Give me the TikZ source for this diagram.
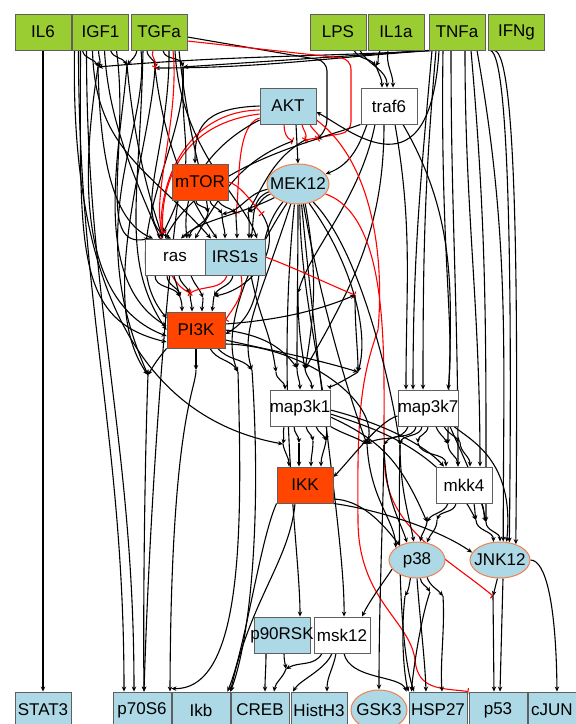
\documentclass[tikz,border=0pt]{standalone}
\usepackage{fontspec}
\setmainfont{Liberation Sans}
\usetikzlibrary{shapes.geometric,arrows.meta,backgrounds}
\definecolor{stimgreen}{RGB}{154,205,50}
\definecolor{readblue}{RGB}{173,216,230}
\definecolor{inhibred}{RGB}{255,69,0}
\definecolor{ringorange}{RGB}{240,128,80}
\definecolor{boxgray}{RGB}{95,95,95}
\newcommand{\boxtext}[1]{\makebox[0pt]{#1}}
\begin{document}
\begin{tikzpicture}[
x=1pt, y=-1pt,
font=\fontsize{17}{19}\selectfont,
box/.style={rectangle, draw=boxgray, line width=0.9pt, minimum width=56pt, minimum height=36pt, inner sep=0pt},
stimulus/.style={box, fill=stimgreen},
readout/.style={box, fill=readblue},
inhibited/.style={box, fill=inhibred},
hidden/.style={box, fill=white},
measured/.style={ellipse, draw=ringorange, line width=1pt, fill=readblue, minimum width=56pt, minimum height=36pt, inner sep=0pt},
act/.style={black, line width=1.1pt, -{Stealth[length=5pt,width=4.5pt]}},
neg/.style={red, line width=1.1pt, -{Bar[width=7pt]}},
]
\useasboundingbox (0,0) rectangle (576,724);
\node[stimulus] (IL6) at (43,32) {\boxtext{IL6}};
\node[stimulus] (IGF1) at (100.5,32) {\boxtext{IGF1}};
\node[stimulus] (TGFa) at (159,32) {\boxtext{TGFa}};
\node[stimulus] (LPS) at (338,32) {\boxtext{LPS}};
\node[stimulus] (IL1a) at (396,32) {\boxtext{IL1a}};
\node[stimulus] (TNFa) at (457,32) {\boxtext{TNFa}};
\node[stimulus] (IFNg) at (516.5,32) {\boxtext{IFNg}};
\node[readout] (AKT) at (288,106) {\boxtext{AKT}};
\node[hidden] (traf6) at (389,106) {\boxtext{traf6}};
\node[inhibited] (mTOR) at (200,182) {\boxtext{mTOR}};
\node[measured, minimum width=62pt, minimum height=40pt] (MEK12) at (298,184) {\boxtext{MEK12}};
\node[hidden, minimum width=60pt] (ras) at (175,257) {\boxtext{ras}};
\node[readout, minimum width=60pt] (IRS1s) at (235,257) {\boxtext{IRS1s}};
\node[inhibited, minimum width=58pt] (PI3K) at (196,330) {\boxtext{PI3K}};
\node[hidden, minimum width=60pt] (map3k1) at (300,408) {\boxtext{map3k1}};
\node[hidden, minimum width=60pt] (map3k7) at (428,408) {\boxtext{map3k7}};
\node[inhibited] (IKK) at (305,485) {\boxtext{IKK}};
\node[hidden] (mkk4) at (464,485) {\boxtext{mkk4}};
\node[measured] (p38) at (417,560) {\boxtext{p38}};
\node[measured, minimum width=60pt] (JNK12) at (500,560) {\boxtext{JNK12}};
\node[readout] (p90RSK) at (282,635) {\boxtext{p90RSK}};
\node[hidden] (msk12) at (342,635) {\boxtext{msk12}};
\node[readout] (STAT3) at (43,710) {\boxtext{STAT3}};
\node[readout, minimum width=58pt] (p70S6) at (142,710) {\boxtext{p70S6}};
\node[readout, minimum width=58pt] (Ikb) at (201,710) {\boxtext{Ikb}};
\node[readout, minimum width=58pt] (CREB) at (260,710) {\boxtext{CREB}};
\node[readout] (HistH3) at (319,710) {\boxtext{HistH3}};
\node[measured, minimum height=40pt] (GSK3) at (379,710) {\boxtext{GSK3}};
\node[readout, minimum width=58pt] (HSP27) at (438,710) {\boxtext{HSP27}};
\node[readout, minimum width=58pt] (p53) at (498,710) {\boxtext{p53}};
\node[readout, minimum width=58pt] (cJUN) at (557,710) {\boxtext{\kern-10pt cJUN}};
\coordinate (gA) at (98,67);
\coordinate (gB) at (127,65);
\coordinate (gC) at (155,68);
\coordinate (gE) at (183,67);
\coordinate (gT) at (376,66);
\coordinate (gM1) at (293,141);
\coordinate (gM2) at (305,140);
\coordinate (gM3) at (317,139);
\coordinate (gR1) at (208,213);
\coordinate (gR2) at (222,214);
\coordinate (gR3) at (236,213);
\coordinate (gR4) at (248,212);
\coordinate (gR5) at (262,214);
\coordinate (gS1) at (163,233);
\coordinate (gP1) at (180,297);
\coordinate (gP2) at (190,293);
\coordinate (gP3) at (203,298);
\coordinate (gP4) at (214,296);
\coordinate (gG) at (355,295);
\coordinate (gZ) at (298,293);
\coordinate (gK1) at (148,375);
\coordinate (gK2) at (196,370);
\coordinate (gK3) at (238,372);
\coordinate (gK4) at (252,370);
\coordinate (gL1) at (276,372);
\coordinate (gL2) at (297,368);
\coordinate (gL3) at (305,369);
\coordinate (gY) at (358,372);
\coordinate (gI1) at (283,444);
\coordinate (gI2) at (299,443);
\coordinate (gI3) at (313,441);
\coordinate (gI4) at (326,441);
\coordinate (gJ1) at (367,444);
\coordinate (gJ2) at (384,445);
\coordinate (gJ3) at (400,445);
\coordinate (gJ4) at (418,443);
\coordinate (gJ5) at (448,444);
\coordinate (gJ6) at (460,442);
\coordinate (gN1) at (427,522);
\coordinate (gN2) at (437,520);
\coordinate (gN3) at (476,520);
\coordinate (gN4) at (486,522);
\coordinate (gQ1) at (405,596);
\coordinate (gQ2) at (430,592);
\coordinate (gQ3) at (443,596);
\coordinate (gU1) at (493,596);
\coordinate (gC1) at (286,669);
\begin{scope}[on background layer]
\draw[act] (IL6) -- (STAT3);
\draw[act] (TNFa.south west) -- (gE);
\draw[act] ([xshift=3pt]TNFa.south west) to[out=184,in=0] (gC);
\draw[act] ([xshift=6pt]TNFa.south west) to[out=183,in=5] (gA);
\draw[act] ([xshift=-18pt]IGF1.south) to[out=-80,in=110] (gA);
\draw[act] ([xshift=-2pt]IGF1.south) to[out=-90,in=60] (gA);
\draw[act] ([xshift=10pt]IGF1.south) to[out=-70,in=120] (gB);
\draw[act] ([xshift=-22pt]TGFa.south) to[out=-100,in=50] (gB);
\draw[act] ([xshift=-12pt]TGFa.south) to[out=-90,in=80] (gC);
\draw[act] ([xshift=4pt]TGFa.south) to[out=-80,in=100] (gE);
\draw[neg] ([xshift=-6pt]TGFa.south) to[out=-120,in=60] (gC);
\draw[act, rounded corners=10pt] ([yshift=-5pt]TGFa.east) -- (327,61) -- (327,130) -- (gM3);
\draw[neg, rounded corners=10pt] ([yshift=-9pt]TGFa.east) -- (351,59) -- (351,132) -- (gM2);
\draw[act] ([xshift=16pt]LPS.south) to[out=-60,in=130] (gT);
\draw[act] ([xshift=-16pt]IL1a.south) to[out=-120,in=60] (gT);
\draw[act] (gT) to[out=-70,in=90] ([xshift=-7pt]traf6.north);
\draw[act] ([xshift=22pt]LPS.south) to[out=-60,in=90] ([xshift=-2pt]traf6.north);
\draw[act] ([xshift=-8pt]IL1a.south) to[out=-100,in=90] ([xshift=4pt]traf6.north);
\draw[act] ([xshift=-25pt]TNFa.south) to[out=-95,in=90] ([xshift=-15pt]map3k7.north);
\draw[act] ([xshift=-21pt]TNFa.south) to[out=-95,in=90] ([xshift=-5pt]map3k7.north);
\draw[act] ([xshift=-14pt]TNFa.south) .. controls (440,250) and (455,330) .. ([xshift=20pt]map3k7.north);
\draw[act] ([xshift=-6pt]TNFa.south) to[out=-90,in=90] ([xshift=-6pt]mkk4.north);
\draw[act] ([xshift=8pt]TNFa.south) to[out=-90,in=90] ([xshift=16pt]mkk4.north);
\draw[act] ([xshift=14pt]TNFa.south) to[out=-85,in=90] (gN4);
\draw[act] ([xshift=20pt]TNFa.south) to[out=-80,in=90] (JNK12.80);
\draw[act] ([xshift=-26pt]IFNg.south) .. controls (510,56) and (512,300) .. (JNK12.62);
\draw[act] ([xshift=-22pt]IFNg.south) .. controls (517,54) and (518,300) .. (JNK12.45);
\draw[act] ([xshift=-18pt]TNFa.south) .. controls (430,200) and (350,130) .. ([yshift=-6pt]AKT.east);
\draw[act] ([xshift=-22pt]traf6.south) to[out=-110,in=20] (MEK12.20);
\draw[act] ([xshift=-14pt]traf6.south) .. controls (360,200) and (310,250) .. (gZ);
\draw[act] ([xshift=-5pt]traf6.south) to[out=-90,in=60] (gL3);
\draw[act] ([xshift=6pt]traf6.south) to[out=-80,in=90] ([xshift=-22pt]map3k7.north);
\draw[act] ([xshift=14pt]traf6.south) to[out=-60,in=90] (gJ5);
\draw[act] (traf6.south west) to[out=200,in=20] (gM3);
\draw[act] ([xshift=8pt]AKT.south) -- (MEK12.north);
\draw[neg] ([xshift=-4pt]AKT.south) to[out=-90,in=160] (gM1);
\draw[neg] ([xshift=14pt]AKT.south) to[out=-80,in=60] (gM2);
\draw[neg] ([xshift=22pt]AKT.south) to[out=-70,in=40] (gM3);
\draw[act] (gM1) to[out=200,in=60] ([xshift=20pt]ras.north);
\draw[act] (gM2) to[out=210,in=60] (gR4);
\draw[act] (gM3) .. controls (250,160) and (190,190) .. ([xshift=-10pt]ras.north);
\draw[act] (AKT.west) .. controls (200,108) and (195,130) .. ([xshift=-5pt]mTOR.north);
\draw[neg] ([yshift=-4pt]AKT.west) .. controls (150,112) and (140,270) .. (gP2);
\draw[neg] ([yshift=-8pt]AKT.west) .. controls (170,125) and (160,200) .. (gS1);
\draw[neg] ([yshift=-12pt]AKT.west) .. controls (235,125) and (240,190) .. (gR3);
\draw[act] ([yshift=-14pt]AKT.west) .. controls (220,140) and (180,180) .. ([xshift=12pt]ras.north);
\draw[neg] ([yshift=-14pt]AKT.east) .. controls (370,160) and (385,250) .. (378,330) .. controls (360,380) and (357,420) .. (358,520) .. controls (358,600) and (410,620) .. (415,660) .. controls (418,690) and (440,688) .. (p53.north west);
\draw[neg] (MEK12.340) .. controls (400,220) and (380,400) .. (385,470) .. controls (390,530) and (450,560) .. (gU1);
\draw[act] (MEK12.200) to[out=200,in=20] (gR4);
\draw[act] (MEK12.190) to[out=190,in=10] (gR2);
\draw[act] (MEK12.210) .. controls (240,215) and (200,220) .. ([xshift=6pt]ras.north);
\draw[act] (MEK12.195) to[out=200,in=80] ([xshift=16pt]IRS1s.north);
\draw[act] (MEK12.260) .. controls (275,400) and (300,550) .. ([xshift=18pt]p90RSK.north);
\draw[act] (MEK12.280) .. controls (320,400) and (345,550) .. ([xshift=2pt]msk12.north);
\draw[act] (MEK12.270) to[out=-90,in=90] (gL2);
\draw[act] (MEK12.290) to[out=-80,in=80] (gL3);
\draw[act] (MEK12.300) .. controls (350,260) and (370,330) .. (gY);
\draw[act] (MEK12.250) .. controls (260,300) and (240,330) .. (gK4);
\draw[act] (MEK12.240) .. controls (250,260) and (220,330) .. (gK3);
\draw[act] (MEK12.230) to[out=230,in=30] ([yshift=-4pt]PI3K.east);
\draw[act] (MEK12.275) .. controls (300,300) and (330,400) .. (gI4);
\draw[act] (MEK12.285) .. controls (320,300) and (350,400) .. (gJ1);
\draw[act] (MEK12.310) .. controls (360,250) and (390,380) .. (gJ3);
\draw[act] ([xshift=-4pt]mTOR.south) to[out=-90,in=100] (gR1);
\draw[act] ([xshift=10pt]mTOR.south) to[out=-80,in=120] (gR2);
\draw[act] ([xshift=18pt]mTOR.south) to[out=-60,in=140] (gR3);
\draw[neg] (mTOR.east) .. controls (240,185) and (250,200) .. (gR5);
\draw[act] ([xshift=-22pt]mTOR.south) .. controls (165,300) and (150,500) .. ([xshift=2pt]p70S6.north);
\draw[act] (gR1) to[out=-100,in=80] ([xshift=14pt]ras.north);
\draw[act] (gR2) to[out=-90,in=90] ([xshift=-10pt]IRS1s.north);
\draw[act] (gR3) to[out=-90,in=90] ([xshift=2pt]IRS1s.north);
\draw[act] (gR4) to[out=-80,in=90] ([xshift=14pt]IRS1s.north);
\draw[act] (gR5) .. controls (285,250) and (250,290) .. (gP4);
\draw[act] (gA) .. controls (85,150) and (70,300) .. ([yshift=-6pt]PI3K.west);
\draw[act] (gA) .. controls (100,150) and (110,220) .. ([xshift=-22pt]ras.north);
\draw[act] (gB) .. controls (120,150) and (90,280) .. ([yshift=4pt]PI3K.west);
\draw[act] (gB) .. controls (135,150) and (150,200) .. ([xshift=-12pt]ras.north);
\draw[act] (gC) .. controls (150,150) and (95,300) .. (gK1);
\draw[act] (gC) .. controls (165,150) and (190,200) .. ([xshift=-18pt]IRS1s.north);
\draw[act] (gE) .. controls (190,140) and (110,250) .. ([yshift=12pt]PI3K.west);
\draw[act] (gE) .. controls (180,150) and (200,160) .. (gS1);
\draw[act] (gS1) to[out=-90,in=90] ([xshift=-16pt]ras.north);
\draw[act] ([xshift=-26pt]IGF1.south) .. controls (70,300) and (150,420) .. (gI1);
\draw[act] ([xshift=-20pt]IGF1.south) .. controls (80,250) and (75,320) .. ([yshift=-12pt]PI3K.west);
\draw[act] ([xshift=-22pt]IGF1.south) to[out=-90,in=90] ([xshift=-18pt]p70S6.north);
\draw[act] ([xshift=-14pt]IGF1.south) to[out=-90,in=90] ([xshift=-8pt]p70S6.north);
\draw[act] ([xshift=16pt]IGF1.south) .. controls (130,150) and (95,250) .. ([xshift=-26pt]ras.north);
\draw[act] ([xshift=-8pt]IGF1.south) .. controls (95,150) and (150,170) .. ([xshift=-24pt]IRS1s.north);
\draw[act] ([xshift=4pt]IGF1.south) .. controls (110,150) and (160,220) .. (gP1);
\draw[act] ([xshift=-16pt]TGFa.south) .. controls (140,200) and (120,260) .. (PI3K.west);
\draw[act] ([xshift=-18pt]TGFa.south) .. controls (150,130) and (80,220) .. (gK1);
\draw[act] ([xshift=10pt]TGFa.south) .. controls (170,150) and (130,220) .. ([xshift=-4pt]ras.north);
\draw[act] ([xshift=16pt]TGFa.south) .. controls (180,150) and (245,200) .. ([xshift=22pt]IRS1s.north);
\draw[act] ([xshift=20pt]TGFa.south) .. controls (190,150) and (205,180) .. (gR1);
\draw[neg] ([xshift=14pt]TGFa.south) .. controls (180,120) and (150,200) .. (gS1);
\draw[act] ([xshift=-20pt]ras.south) to[out=-90,in=120] (gP1);
\draw[act] ([xshift=-8pt]ras.south) to[out=-90,in=100] (gP1);
\draw[act] ([xshift=4pt]ras.south) to[out=-80,in=120] (gP2);
\draw[act] ([xshift=16pt]ras.south) to[out=-70,in=110] (gP3);
\draw[act] (gP1) to[out=-70,in=90] ([xshift=-14pt]PI3K.north);
\draw[act] (gP2) to[out=-90,in=90] ([xshift=-4pt]PI3K.north);
\draw[act] (gP3) to[out=-90,in=90] ([xshift=6pt]PI3K.north);
\draw[act] (gP4) to[out=-100,in=80] ([xshift=16pt]PI3K.north);
\draw[neg] ([xshift=-8pt]IRS1s.south) to[out=-110,in=30] (gP2);
\draw[neg] ([xshift=6pt]IRS1s.south) .. controls (245,295) and (235,305) .. ([yshift=10pt]PI3K.east);
\draw[act] ([xshift=-2pt]IRS1s.south) to[out=-100,in=60] (gP4);
\draw[act] ([xshift=16pt]IRS1s.south) .. controls (260,320) and (270,330) .. (gL1);
\draw[neg] (IRS1s.east) .. controls (300,270) and (330,285) .. (gG);
\draw[act] (PI3K.south west) to[out=-130,in=60] (gK1);
\draw[act] (PI3K.south) -- (gK2);
\draw[act] ([xshift=14pt]PI3K.south) to[out=-60,in=120] (gK3);
\draw[act] ([xshift=22pt]PI3K.south) to[out=-50,in=130] (gK4);
\draw[act] (PI3K.east) .. controls (260,335) and (280,345) .. (gL2);
\draw[act] ([yshift=-10pt]PI3K.east) .. controls (270,350) and (320,360) .. (gY);
\draw[act] ([yshift=-14pt]PI3K.east) .. controls (300,345) and (380,400) .. (gJ1);
\draw[act] ([yshift=6pt]PI3K.east) .. controls (280,320) and (320,310) .. (gG);
\draw[act] (gK1) .. controls (145,450) and (143,600) .. ([xshift=2pt]p70S6.north);
\draw[act] (gK2) .. controls (196,390) and (171,420) .. ([xshift=28pt]p70S6.north);
\draw[act] (gK3) .. controls (242,520) and (245,690) .. ([yshift=3pt]p70S6.north east);
\draw[act] (gK4) .. controls (262,520) and (250,640) .. (Ikb.north east);
\draw[act] (gL1) to[out=-90,in=90] ([xshift=-15pt]map3k1.north);
\draw[act] (gL2) to[out=-90,in=90] (map3k1.north);
\draw[act] (gL3) to[out=-80,in=90] ([xshift=12pt]map3k1.north);
\draw[act] (gZ) .. controls (298,320) and (300,340) .. (gL3);
\draw[act] (gG) .. controls (355,330) and (358,350) .. (gY);
\draw[act] (gY) .. controls (345,380) and (330,388) .. (map3k1.north east);
\draw[act] ([xshift=-16pt]map3k1.south) to[out=-100,in=80] (gI1);
\draw[act] ([xshift=-6pt]map3k1.south) to[out=-90,in=90] (gI2);
\draw[act] ([xshift=6pt]map3k1.south) to[out=-80,in=100] (gI3);
\draw[act] ([xshift=16pt]map3k1.south) to[out=-70,in=110] (gI4);
\draw[act] (gI1) to[out=-80,in=90] ([xshift=-16pt]IKK.north);
\draw[act] (gI2) to[out=-90,in=90] ([xshift=-6pt]IKK.north);
\draw[act] (gI3) to[out=-90,in=90] ([xshift=6pt]IKK.north);
\draw[act] (gI4) to[out=-100,in=90] ([xshift=16pt]IKK.north);
\draw[act] ([yshift=-6pt]map3k1.east) .. controls (380,430) and (440,450) .. (gN3);
\draw[act] ([yshift=-9pt]map3k1.east) .. controls (380,440) and (400,460) .. (gN1);
\draw[act] ([yshift=-2pt]map3k1.east) .. controls (370,420) and (420,440) .. ([xshift=-20pt]mkk4.north);
\draw[act] (map3k1.south east) to[out=-30,in=150] (gJ1);
\draw[act] ([xshift=-20pt]map3k7.south) to[out=-110,in=30] (gJ1);
\draw[act] ([xshift=-12pt]map3k7.south) to[out=-100,in=60] (gJ2);
\draw[act] ([xshift=-6pt]map3k7.south) to[out=-95,in=80] (gJ3);
\draw[act] (map3k7.south) to[out=-90,in=90] (gJ4);
\draw[act] ([xshift=8pt]map3k7.south) to[out=-70,in=120] (gJ5);
\draw[act] ([xshift=16pt]map3k7.south) to[out=-60,in=130] (gJ6);
\draw[act] (gJ4) to[out=-80,in=90] ([xshift=-18pt]mkk4.north);
\draw[act] (gJ5) to[out=-90,in=90] ([xshift=-6pt]mkk4.north);
\draw[act] (gJ6) to[out=-90,in=90] ([xshift=6pt]mkk4.north);
\draw[act] (gJ1) .. controls (370,500) and (395,520) .. (p38.150);
\draw[act] (gJ2) .. controls (385,500) and (400,520) .. (p38.120);
\draw[act] (gJ3) .. controls (400,490) and (410,520) .. (p38.100);
\draw[act] (gJ2) .. controls (383,520) and (379,600) .. (GSK3.north);
\draw[act] (gJ3) .. controls (398,550) and (400,650) .. ([xshift=-24pt]HSP27.north);
\draw[act] ([xshift=26pt]map3k7.south) .. controls (470,440) and (515,460) .. (JNK12.70);
\draw[act] ([xshift=22pt]map3k7.south) .. controls (460,450) and (480,490) .. (gN4);
\draw[act] ([yshift=-8pt]map3k7.west) .. controls (380,420) and (350,460) .. ([yshift=8pt]IKK.east);
\draw[act] ([xshift=-16pt]mkk4.south) to[out=-110,in=60] (gN1);
\draw[act] ([xshift=-8pt]mkk4.south) to[out=-100,in=70] (gN2);
\draw[act] ([xshift=10pt]mkk4.south) to[out=-80,in=100] (gN3);
\draw[act] ([xshift=18pt]mkk4.south) to[out=-70,in=110] (gN4);
\draw[act] (gN1) to[out=-100,in=80] (p38.80);
\draw[act] (gN2) to[out=-90,in=70] (p38.60);
\draw[act] (gN3) to[out=-90,in=90] (JNK12.110);
\draw[act] (gN4) to[out=-90,in=90] (JNK12.90);
\draw[act] ([xshift=-10pt]IKK.south) .. controls (290,560) and (250,600) .. (Ikb.north east);
\draw[act] (IKK.south west) .. controls (260,540) and (245,650) .. ([xshift=-3pt]Ikb.north east);
\draw[act] (IKK.south east) .. controls (380,510) and (440,530) .. (JNK12.165);
\draw[act] ([yshift=-14pt]IKK.east) .. controls (360,500) and (380,520) .. (p38.140);
\draw[act] (p38.200) .. controls (385,580) and (370,600) .. ([xshift=20pt]msk12.north);
\draw[act] (p38.250) to[out=-100,in=60] (gQ1);
\draw[act] (p38.280) to[out=-80,in=120] (gQ2);
\draw[act] (p38.300) to[out=-70,in=130] (gQ3);
\draw[act] (p38.270) .. controls (420,620) and (425,660) .. ([xshift=-12pt]HSP27.north);
\draw[act] (gQ1) .. controls (400,640) and (405,680) .. (HSP27.north west);
\draw[act] (gQ2) .. controls (420,620) and (412,680) .. ([xshift=3pt]HSP27.north west);
\draw[act] (gQ3) .. controls (445,630) and (440,660) .. ([xshift=4pt]HSP27.north);
\draw[act] (JNK12.east) .. controls (545,560) and (556,600) .. (cJUN.north);
\draw[act] (JNK12.262) -- (gU1);
\draw[act] (gU1) -- ([xshift=-4pt]p53.north);
\draw[act] ([xshift=3pt]JNK12.south) -- ([xshift=2pt]p53.north);
\draw[act] ([xshift=-16pt]p90RSK.south) to[out=-90,in=90] ([xshift=5pt]CREB.north);
\draw[act] ([xshift=2pt]p90RSK.south) to[out=-90,in=100] (gC1);
\draw[act] ([xshift=-20pt]msk12.south) to[out=-120,in=30] (gC1);
\draw[act] (gC1) to[out=-110,in=80] ([xshift=14pt]CREB.north);
\draw[act] ([xshift=-10pt]msk12.south) .. controls (325,670) and (300,680) .. ([xshift=-26pt]HistH3.north);
\draw[act] ([xshift=-6pt]msk12.south) to[out=-100,in=90] ([xshift=8pt]HistH3.north);
\draw[act] ([xshift=2pt]msk12.south) .. controls (350,680) and (400,675) .. ([xshift=-2pt]HSP27.north west);
\end{scope}
\end{tikzpicture}
\end{document}
